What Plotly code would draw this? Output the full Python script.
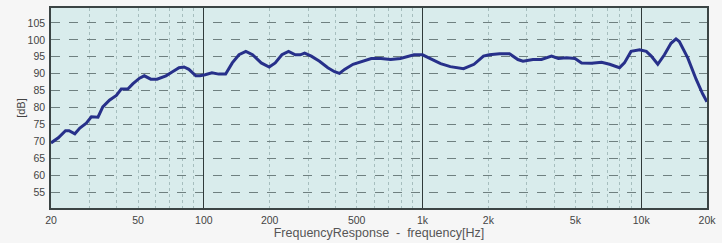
import plotly.graph_objects as go

freq_hz = [20, 21.6, 23.3, 24.2, 25.7, 27.1, 29.0, 30.6, 32.8, 34.5, 37.0, 39.8, 41.9, 44.9,
           47.3, 50.8, 53.4, 57.2, 61.1, 67.1, 71.9, 77.0, 81.2, 85.4, 91.9, 96.0, 101.3,
           108.9, 117.0, 125.8, 134.9, 144.8, 155.6, 167, 183, 199, 212, 227.5, 244, 262,
           276, 289, 310, 338, 369, 396, 417, 440, 481, 534, 583, 645, 715, 792, 856, 915,
           1000, 1090, 1210, 1340, 1540, 1720, 1900, 2020, 2250, 2500, 2730, 2880, 3200,
           3500, 3890, 4180, 4560, 4980, 5340, 5930, 6590, 7170, 7960, 8380, 8990, 9840,
           10550, 11120, 11910, 12770, 13690, 14430, 14940, 16330, 17830, 19100, 19980]
level_db = [69.6, 71.1, 73.2, 73.2, 72.3, 74.0, 75.4, 77.3, 77.2, 80.2, 82.2, 83.6, 85.5, 85.5,
            87.0, 88.7, 89.4, 88.4, 88.4, 89.4, 90.6, 91.8, 92.0, 91.3, 89.4, 89.4, 89.7,
            90.3, 89.9, 89.9, 93.2, 95.6, 96.6, 95.6, 93.2, 92.0, 93.2, 95.6, 96.6, 95.6,
            95.6, 96.1, 95.2, 93.7, 91.8, 90.6, 90.1, 91.3, 92.8, 93.7, 94.5, 94.5, 94.2,
            94.5, 95.2, 95.6, 95.6, 94.5, 93.0, 92.1, 91.5, 92.8, 95.2, 95.6, 95.9, 95.9,
            94.2, 93.7, 94.2, 94.2, 95.2, 94.5, 94.7, 94.5, 93.2, 93.1, 93.4, 92.8, 91.8,
            93.2, 96.6, 97.1, 96.6, 95.2, 92.8, 95.6, 99.0, 100.3, 99.5, 94.7, 88.4, 84.1, 81.7]

x_tick_vals = [20, 50, 100, 200, 500, 1000, 2000, 5000, 10000, 20000]
x_tick_text = ["20", "50", "100", "200", "500", "1k", "2k", "5k", "10k", "20k"]
x_minor_vals = [30, 40, 50, 60, 70, 80, 90, 200, 300, 400, 500, 600, 700, 800, 900,
                2000, 3000, 4000, 5000, 6000, 7000, 8000, 9000]
x_decades = [100, 1000, 10000]
y_tick_vals = [55, 60, 65, 70, 75, 80, 85, 90, 95, 100, 105]

font_family = "Liberation Sans, Arial, sans-serif"
tick_font = dict(family=font_family, size=10.5, color="#444444")

fig = go.Figure()
fig.add_trace(go.Scatter(x=freq_hz, y=level_db, mode="lines",
                         line=dict(color="#27308a", width=3), showlegend=False,
                         hoverinfo="skip"))
fig.add_trace(go.Scatter(x=[x_tick_vals[0], x_tick_vals[-1]], y=[None, None], xaxis="x2",
                         mode="lines", showlegend=False, hoverinfo="skip"))

xr = [1.301, 4.301]
fig.update_layout(
    width=722, height=243,
    margin=dict(l=51, r=10, t=6, b=33),
    paper_bgcolor="#f6f6f6",
    plot_bgcolor="#d9ecec",
    font=dict(family=font_family, color="#444444"),
    xaxis=dict(
        type="log", range=xr,
        tickvals=x_tick_vals, ticktext=x_tick_text, tickfont=tick_font,
        ticks="", ticklabelstandoff=2,
        showgrid=False, zeroline=False,
        showline=True, mirror=True, linecolor="#3b4444", linewidth=1.5,
        minor=dict(tickvals=x_minor_vals, showgrid=True, gridcolor="#a6bebe",
                   griddash="dot", gridwidth=1, ticks=""),
        title=dict(text="FrequencyResponse  -  frequency[Hz]", standoff=2,
                   font=dict(family=font_family, size=12.5, color="#555555")),
    ),
    xaxis2=dict(
        type="log", range=xr, overlaying="x",
        tickvals=x_decades, showticklabels=False, ticks="",
        showgrid=True, gridcolor="#2f3a3a", gridwidth=1.2, zeroline=False,
        showline=False,
    ),
    yaxis=dict(
        range=[50.4, 109.4], tickvals=y_tick_vals, tickfont=tick_font,
        ticks="", ticklabelstandoff=2,
        showgrid=True, gridcolor="#6f8080", griddash="dash", gridwidth=1,
        zeroline=False,
        showline=True, mirror=True, linecolor="#3b4444", linewidth=1.5,
        title=dict(text="[dB]", standoff=0,
                   font=dict(family=font_family, size=11, color="#444444")),
    ),
)

fig.write_html("out.html")
